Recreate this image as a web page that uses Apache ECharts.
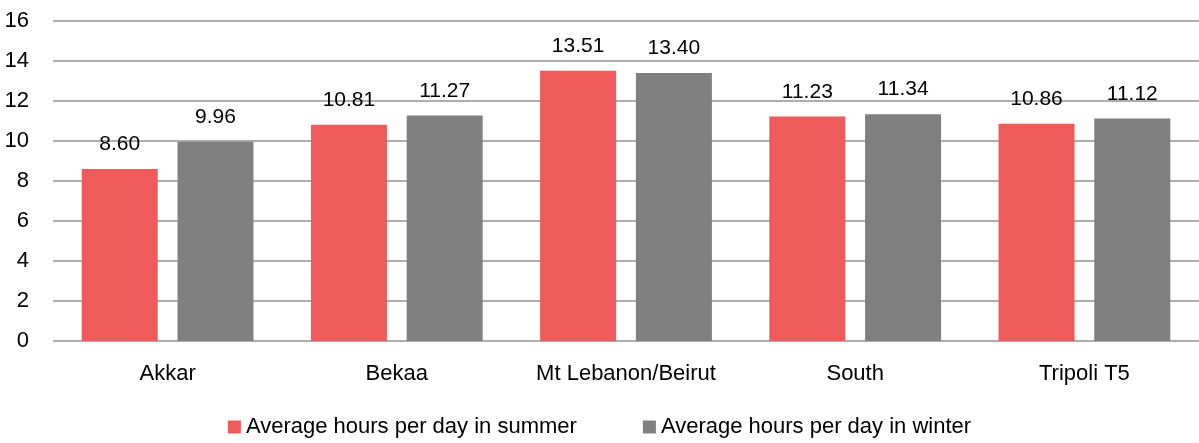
<!DOCTYPE html>
<html>
<head>
<meta charset="utf-8">
<script src="https://cdn.jsdelivr.net/npm/echarts@6/dist/echarts.min.js"></script>
<style>
  html, body { margin: 0; padding: 0; background: #fff; }
  #chart { width: 1199px; height: 443px; }
</style>
</head>
<body>
<div id="chart"></div>
<script>
const categories = ['Akkar', 'Bekaa', 'Mt Lebanon/Beirut', 'South', 'Tripoli T5']
const summerHours = [8.60, 10.81, 13.51, 11.23, 10.86]
const winterHours = [9.96, 11.27, 13.40, 11.34, 11.12]
const seriesNames = ['Average hours per day in summer', 'Average hours per day in winter']

const font = '"Liberation Sans", Arial, sans-serif'
const textSize = 22

const chart = echarts.init(document.getElementById('chart'))

const labelStyle = {
  show: true,
  position: 'top',
  distance: 14,
  color: '#000',
  fontFamily: font,
  fontSize: 21,
  formatter: p => p.value.toFixed(2)
}

chart.setOption({
  animation: false,
  color: ['#ef5a5b', '#808080'],
  grid: {
    left: 53,
    right: 0,
    top: 21,
    bottom: 102
  },
  legend: {
    bottom: 0,
    left: 'center',
    itemWidth: 13,
    itemHeight: 13,
    itemGap: 66,
    icon: 'rect',
    textStyle: { color: '#000', fontFamily: font, fontSize: textSize }
  },
  xAxis: {
    type: 'category',
    data: categories,
    axisLine: { show: false },
    axisTick: { show: false },
    axisLabel: {
      interval: 0,
      hideOverlap: false,
      color: '#000',
      fontFamily: font,
      fontSize: textSize,
      margin: 22
    }
  },
  yAxis: {
    type: 'value',
    min: 0,
    max: 16,
    interval: 2,
    axisLine: { show: false },
    axisTick: { show: false },
    axisLabel: {
      color: '#000',
      fontFamily: font,
      fontSize: textSize,
      margin: 24
    },
    splitLine: { lineStyle: { color: '#929292', width: 1.5 } }
  },
  series: [{
    name: seriesNames[0],
    type: 'bar',
    barWidth: 76,
    barGap: '26%',
    data: summerHours,
    label: labelStyle
  }, {
    name: seriesNames[1],
    type: 'bar',
    barWidth: 76,
    barGap: '26%',
    data: winterHours,
    label: labelStyle
  }]
})
</script>
</body>
</html>
